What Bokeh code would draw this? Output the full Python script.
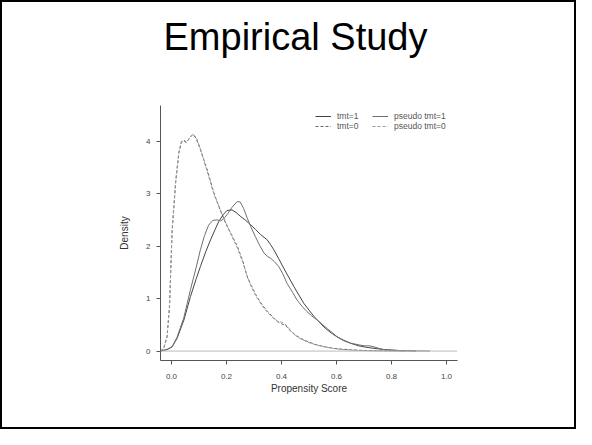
from bokeh.plotting import figure
from bokeh.models import (Range1d, FixedTicker, PrintfTickFormatter, Span, Legend,
                          LegendItem, Title)
from bokeh.embed import file_html
from bokeh.resources import INLINE

# ---- data ----
title_text = "Empirical Study"
x_label = "Propensity Score"
y_label = "Density"
x_ticks = [0.0, 0.2, 0.4, 0.6, 0.8, 1.0]
y_ticks = [0, 1, 2, 3, 4]

tmt0_x = [-0.04, -0.028, -0.016, -0.007, 0.002, 0.015, 0.027, 0.036, 0.045, 0.055, 0.066, 0.078,
          0.09, 0.105, 0.13, 0.155, 0.18, 0.2, 0.22, 0.24, 0.26, 0.275, 0.29, 0.31, 0.33, 0.35,
          0.37, 0.385, 0.40, 0.41, 0.42, 0.435, 0.45, 0.47, 0.5, 0.53, 0.56, 0.59, 0.62, 0.65,
          0.68, 0.71, 0.75, 0.8, 0.85]
tmt0_y = [0.0, 0.05, 0.27, 0.85, 2.25, 3.2, 3.78, 3.97, 4.02, 3.98, 4.06, 4.13,
          4.05, 3.84, 3.45, 3.0, 2.65, 2.4, 2.2, 1.99, 1.7, 1.42, 1.25, 1.04, 0.88, 0.75,
          0.64, 0.56, 0.52, 0.5, 0.46, 0.37, 0.31, 0.24, 0.17, 0.115, 0.08, 0.05, 0.035, 0.025,
          0.015, 0.01, 0.005, 0.002, 0.0]
pseudo0_y = [0.0, 0.06, 0.3, 0.9, 2.3, 3.25, 3.8, 4.0, 4.0, 3.97, 4.07, 4.14,
             4.07, 3.86, 3.42, 2.98, 2.66, 2.42, 2.18, 1.96, 1.68, 1.44, 1.22, 1.02, 0.86, 0.73,
             0.63, 0.57, 0.55, 0.53, 0.48, 0.38, 0.3, 0.23, 0.16, 0.11, 0.075, 0.05, 0.03, 0.02,
             0.012, 0.008, 0.004, 0.001, 0.0]

tmt1_x = [-0.04, -0.016, 0.002, 0.02, 0.045, 0.069, 0.09, 0.105, 0.125, 0.142, 0.158, 0.172,
          0.188, 0.202, 0.22, 0.235, 0.25, 0.27, 0.287, 0.305, 0.324, 0.348, 0.36, 0.372,
          0.39, 0.408, 0.426, 0.445, 0.463, 0.481, 0.5, 0.518, 0.536, 0.554, 0.572, 0.59,
          0.62, 0.651, 0.68, 0.71, 0.74, 0.77, 0.8, 0.83, 0.86, 0.89]
tmt1_y = [0.0, 0.03, 0.08, 0.24, 0.59, 1.04, 1.38, 1.61, 1.9, 2.12, 2.31, 2.47,
          2.6, 2.68, 2.69, 2.64, 2.57, 2.49, 2.41, 2.32, 2.22, 2.12, 2.03, 1.93,
          1.76, 1.58, 1.41, 1.23, 1.07, 0.91, 0.78, 0.66, 0.56, 0.46, 0.38, 0.31,
          0.22, 0.15, 0.1, 0.07, 0.05, 0.03, 0.02, 0.01, 0.005, 0.0]

pseudo1_x = [-0.04, -0.016, 0.002, 0.02, 0.045, 0.069, 0.09, 0.105, 0.12, 0.135, 0.15, 0.166,
             0.178, 0.19, 0.205, 0.22, 0.239, 0.25, 0.262, 0.275, 0.29, 0.305, 0.32, 0.336,
             0.35, 0.36, 0.375, 0.39, 0.405, 0.42, 0.44, 0.457, 0.475, 0.493, 0.51, 0.53,
             0.55, 0.566, 0.585, 0.602, 0.625, 0.651, 0.68, 0.70, 0.72, 0.736, 0.755, 0.77,
             0.8, 0.85, 0.9, 0.94]
pseudo1_y = [0.0, 0.03, 0.08, 0.26, 0.64, 1.17, 1.6, 1.93, 2.2, 2.4, 2.49, 2.5,
             2.48, 2.52, 2.62, 2.74, 2.85, 2.84, 2.72, 2.54, 2.35, 2.18, 2.02, 1.87,
             1.8, 1.77, 1.7, 1.61, 1.47, 1.29, 1.12, 0.97, 0.85, 0.75, 0.67, 0.59,
             0.5, 0.43, 0.35, 0.27, 0.2, 0.15, 0.12, 0.1, 0.1, 0.08, 0.05, 0.03,
             0.015, 0.005, 0.002, 0.0]

FONT = "Liberation Sans"

p = figure(width=576, height=429, output_backend="svg", toolbar_location=None,
           title=None,
           x_range=Range1d(-0.04, 1.04), y_range=Range1d(-0.18, 4.68),
           min_border_left=160, min_border_right=119, min_border_top=105, min_border_bottom=69,
           background_fill_alpha=0, border_fill_alpha=0)
p.outline_line_color = None
p.grid.visible = False

# slide title: a blank spacer next to the frame, then the title above it
p.add_layout(Title(text=" ", text_font_size="1px", standoff=45), "above")
p.add_layout(Title(text=title_text, text_font=FONT, text_font_size="38px",
                   text_font_style="normal", text_color="black",
                   align="left", offset=3, standoff=0, vertical_align="bottom"), "above")

# slide border (canvas is transparent, host paints white + inset frame)
p.styles = {"background-color": "white", "box-shadow": "inset 0 0 0 2px black"}

# axes
for ax in (p.xaxis[0], p.yaxis[0]):
    ax.axis_line_color = "#555555"
    ax.major_tick_line_color = "#555555"
    ax.major_tick_out = 4
    ax.major_tick_in = 0
    ax.minor_tick_line_color = None
    ax.major_label_text_font = FONT
    ax.major_label_text_font_size = "8px"
    ax.major_label_text_color = "#444444"
    ax.axis_label_text_font = FONT
    ax.axis_label_text_font_size = "10px"
    ax.axis_label_text_font_style = "normal"
    ax.axis_label_text_color = "#333333"

p.xaxis.ticker = FixedTicker(ticks=x_ticks)
p.xaxis.formatter = PrintfTickFormatter(format="%.1f")
p.xaxis.major_label_standoff = 9
p.xaxis.axis_label = x_label
p.xaxis.axis_label_standoff = 1

p.yaxis.ticker = FixedTicker(ticks=y_ticks)
p.yaxis.formatter = PrintfTickFormatter(format="%d")
p.yaxis.major_label_orientation = "horizontal"
p.yaxis.major_label_standoff = 6
p.yaxis.axis_label = y_label
p.yaxis.axis_label_standoff = 13

# zero line
p.add_layout(Span(location=0, dimension="width", line_color="#bbbbbb", line_width=1))

# curves
r_t0 = p.line(tmt0_x, tmt0_y, line_color="#666666", line_width=1, line_dash="3 2")
r_p0 = p.line(tmt0_x, pseudo0_y, line_color="#999999", line_width=1, line_dash="3 2")
r_t1 = p.line(tmt1_x, tmt1_y, line_color="#444444", line_width=1)
r_p1 = p.line(pseudo1_x, pseudo1_y, line_color="#6f6f6f", line_width=1)

def make_legend(items, vx):
    lg = Legend(items=items, location=(vx, 229), orientation="vertical",
                padding=0, margin=0, spacing=0, glyph_width=16, glyph_height=10,
                label_height=10, label_standoff=6,
                label_text_font=FONT, label_text_font_size="8.5px",
                label_text_color="#555555",
                border_line_alpha=0, background_fill_alpha=0)
    p.add_layout(lg, "center")

make_legend([LegendItem(label="tmt=1", renderers=[r_t1]),
             LegendItem(label="tmt=0", renderers=[r_t0])], 155)
make_legend([LegendItem(label="pseudo tmt=1", renderers=[r_p1]),
             LegendItem(label="pseudo tmt=0", renderers=[r_p0])], 212)

open("out.html", "w").write(file_html(p, INLINE))
